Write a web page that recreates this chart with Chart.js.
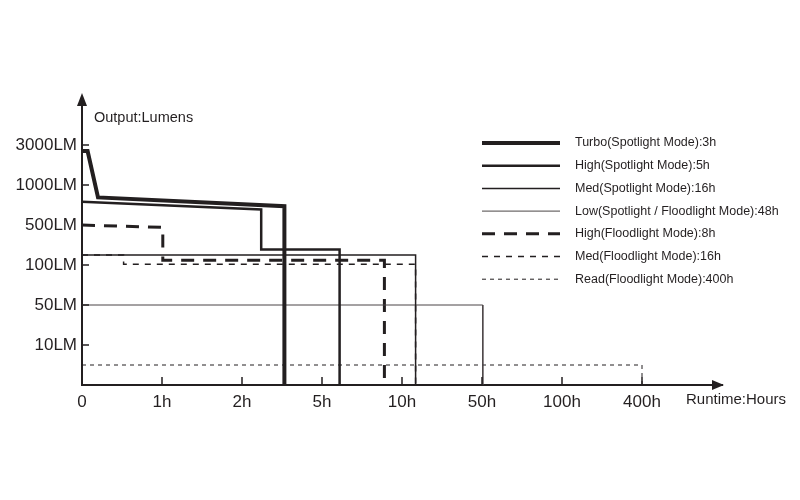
<!DOCTYPE html>
<html>
<head>
<meta charset="utf-8">
<script src="https://cdn.jsdelivr.net/npm/chart.js@4"></script>
<style>
  html, body { margin: 0; padding: 0; background: #fff; }
  #wrap { width: 800px; height: 500px; }
</style>
</head>
<body>
<div id="wrap"><canvas id="runtime"></canvas></div>
<script>
// axis positions are tick slots: x slot i -> xLabels[i], y slot i -> yLabels[i]
const xLabels = ['0', '1h', '2h', '5h', '10h', '50h', '100h', '400h'];
const yLabels = ['', '10LM', '50LM', '100LM', '500LM', '1000LM', '3000LM'];

const seriesNames = [
    'Turbo(Spotlight Mode):3h',
    'High(Spotlight Mode):5h',
    'Med(Spotlight Mode):16h',
    'Low(Spotlight / Floodlight Mode):48h',
    'High(Floodlight Mode):8h',
    'Med(Floodlight Mode):16h',
    'Read(Floodlight Mode):400h'
];

// [x slot, y slot]
const turbo     = [[0, 5.85], [0.07, 5.85], [0.2, 4.69], [2.53, 4.47], [2.53, 0]];
const highSpot  = [[0, 4.58], [2.24, 4.39], [2.24, 3.39], [3.22, 3.39], [3.22, 0]];
const medSpot   = [[0, 3.25], [4.17, 3.25], [4.17, 0]];
const low       = [[0, 2.0], [5.01, 2.0], [5.01, 0]];
const highFlood = [[0, 4.0], [1.01, 3.94], [1.01, 3.12], [3.78, 3.12], [3.78, 0]];
const medFlood  = [[0, 3.25], [0.52, 3.25], [0.52, 3.02], [4.17, 3.02], [4.17, 0]];
const read      = [[0, 0.5], [7.0, 0.5], [7.0, 0]];

const INK = '#231f20';

function toPoints(arr) {
    return arr.map(p => ({ x: p[0], y: p[1] }));
}

function series(label, arr, width, dash, color) {
    return {
        label: label,
        data: toPoints(arr),
        borderColor: color || INK,
        borderWidth: width,
        borderDash: dash || [],
        borderCapStyle: 'butt',
        borderJoinStyle: 'miter',
        pointRadius: 0,
        tension: 0,
        fill: false,
        clip: false
    };
}

const datasets = [
    series(seriesNames[0], turbo, 4),
    series(seriesNames[1], highSpot, 2.5),
    series(seriesNames[2], medSpot, 1.5),
    series(seriesNames[3], low, 1, null, '#4a4546'),
    series(seriesNames[4], highFlood, 3, [13, 9]),
    series(seriesNames[5], medFlood, 1.5, [6, 6]),
    series(seriesNames[6], read, 1, [4, 4])
];

// arrows, inner tick marks, axis names and the legend
const decorations = {
    id: 'decorations',
    afterDraw(chart) {
        const ctx = chart.ctx;
        const xs = chart.scales.x;
        const ys = chart.scales.y;
        const x0 = xs.getPixelForValue(0);
        const y0 = ys.getPixelForValue(0);
        const right = chart.chartArea.right;
        const top = chart.chartArea.top;

        ctx.save();
        ctx.fillStyle = INK;
        ctx.strokeStyle = INK;

        // arrow heads
        ctx.beginPath();
        ctx.moveTo(x0, top - 4);
        ctx.lineTo(x0 - 5, top + 9);
        ctx.lineTo(x0 + 5, top + 9);
        ctx.closePath();
        ctx.fill();
        ctx.beginPath();
        ctx.moveTo(right + 2, y0);
        ctx.lineTo(right - 10, y0 - 5);
        ctx.lineTo(right - 10, y0 + 5);
        ctx.closePath();
        ctx.fill();

        // tick marks pointing into the plot
        ctx.lineWidth = 1.5;
        ctx.beginPath();
        for (let i = 1; i < xLabels.length; i++) {
            const px = xs.getPixelForValue(i);
            ctx.moveTo(px, y0);
            ctx.lineTo(px, y0 - 8);
        }
        for (let i = 1; i < yLabels.length; i++) {
            const py = ys.getPixelForValue(i);
            ctx.moveTo(x0, py);
            ctx.lineTo(x0 + 7, py);
        }
        ctx.stroke();

        // axis names
        ctx.textBaseline = 'middle';
        ctx.textAlign = 'left';
        ctx.font = '14.5px "Liberation Sans", Arial, sans-serif';
        ctx.fillText('Output:Lumens', 94, 118);
        ctx.font = '15px "Liberation Sans", Arial, sans-serif';
        ctx.fillText('Runtime:Hours', 686, 400);

        // legend
        ctx.font = '12.5px "Liberation Sans", Arial, sans-serif';
        chart.data.datasets.forEach((ds, i) => {
            const ly = 143 + i * 22.7;
            ctx.save();
            ctx.strokeStyle = ds.borderColor;
            ctx.lineWidth = ds.borderWidth;
            ctx.setLineDash(ds.borderDash);
            ctx.beginPath();
            ctx.moveTo(482, ly);
            ctx.lineTo(560, ly);
            ctx.stroke();
            ctx.restore();
            ctx.fillStyle = INK;
            ctx.fillText(ds.label, 575, ly);
        });
        ctx.restore();
    }
};

new Chart(document.getElementById('runtime'), {
    type: 'line',
    data: { datasets: datasets },
    options: {
        responsive: true,
        maintainAspectRatio: false,
        animation: false,
        layout: { padding: { top: 97, right: 78, bottom: 0, left: 0 } },
        plugins: {
            legend: { display: false },
            tooltip: { enabled: false }
        },
        scales: {
            x: {
                type: 'linear',
                min: 0,
                max: 8,
                afterFit: function (scale) { scale.height = 115; },
                grid: { display: false, drawTicks: false },
                border: { display: true, color: INK, width: 2 },
                ticks: {
                    stepSize: 1,
                    padding: 7,
                    autoSkip: false,
                    maxRotation: 0,
                    color: INK,
                    font: { family: '"Liberation Sans", Arial, sans-serif', size: 17 },
                    callback: function (value) { return xLabels[value] || ''; }
                }
            },
            y: {
                type: 'linear',
                min: 0,
                max: 7.2,
                afterFit: function (scale) { scale.width = 82; },
                grid: { display: false, drawTicks: false },
                border: { display: true, color: INK, width: 2 },
                ticks: {
                    stepSize: 1,
                    padding: 5,
                    autoSkip: false,
                    color: INK,
                    font: { family: '"Liberation Sans", Arial, sans-serif', size: 17 },
                    callback: function (value) { return yLabels[value] || ''; }
                }
            }
        }
    },
    plugins: [decorations]
});
</script>
</body>
</html>
